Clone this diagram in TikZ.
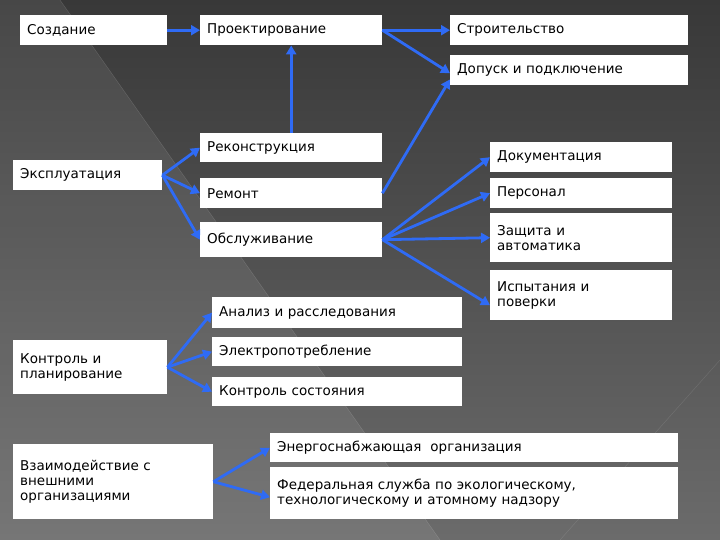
\documentclass[tikz,border=0pt]{standalone}
\usepackage{fontspec}
\setmainfont{DejaVu Sans}
\usetikzlibrary{arrows.meta}
\definecolor{arr}{HTML}{2F6BF5}
\tikzset{
 box/.style={fill=white,inner sep=0pt,font=\fontsize{13.5}{15}\selectfont,text=black},
 ar/.style={draw=arr,line width=2.8pt,-{Triangle[length=9pt,width=10pt]}}
}
\newcommand{\bx}[6]{\node[box,minimum width=#4-#2,minimum height=#5-#3,anchor=north west,text width=#4-#2-14,align=left] (#1) at (#2,#3) {#6};}
\begin{document}
\begin{tikzpicture}[x=1pt,y=-1pt]
\useasboundingbox (0,0) rectangle (720,540);
\shade[top color=black!78,bottom color=black!58] (0,0) rectangle (720,540);
\fill[white,opacity=0.08] (0,0) -- (60,0) -- (440,540) -- (0,540) -- cycle;
\draw[white,opacity=0.15] (60,0) -- (440,540);
\draw[white,opacity=0.12] (720,360) -- (560,540);
\bx{a}{20}{15}{167}{45}{Создание}
\bx{b}{200}{15}{382}{45}{Проектирование}
\bx{c}{450}{15}{688}{45}{Строительство}
\bx{d}{450}{55}{688}{85}{Допуск и подключение}
\bx{e}{200}{133}{382}{162}{Реконструкция}
\bx{f}{13}{160}{162}{190}{Эксплуатация}
\bx{g}{490}{142}{672}{172}{Документация}
\bx{h}{200}{178}{382}{208}{Ремонт}
\bx{i}{490}{178}{672}{208}{Персонал}
\bx{j}{200}{222}{382}{257}{Обслуживание}
\bx{k}{490}{213}{672}{262}{Защита и\\автоматика}
\bx{l}{490}{270}{672}{320}{Испытания и\\поверки}
\bx{m}{212}{297}{462}{328}{Анализ и расследования}
\bx{n}{13}{340}{167}{394}{Контроль и\\планирование}
\bx{o}{212}{337}{462}{366}{Электропотребление}
\bx{p}{212}{377}{462}{406}{Контроль состояния}
\bx{q}{13}{444}{213}{519}{Взаимодействие с\\внешними\\организациями}
\bx{r}{270}{433}{678}{462}{Энергоснабжающая~ организация}
\bx{s}{270}{467}{678}{519}{Федеральная служба по экологическому,\\технологическому и атомному надзору}
\draw[ar] (a.east) -- (b.west);
\draw[ar] (b.east) -- (c.west);
\draw[ar] (b.east) -- ([yshift=-3]d.west);
\draw[ar] (h.east) -- ([yshift=6]d.south west);
\draw[ar] (e.north) -- (b.south);
\draw[ar] (f.east) -- (e.west);
\draw[ar] (f.east) -- (h.west);
\draw[ar] (f.east) -- (j.west);
\draw[ar] (j.east) -- (g.west);
\draw[ar] (j.east) -- (i.west);
\draw[ar] (j.east) -- (k.west);
\draw[ar] (j.east) -- ([yshift=-10]l.west);
\draw[ar] (n.east) -- (m.west);
\draw[ar] (n.east) -- (o.west);
\draw[ar] (n.east) -- (p.west);
\draw[ar] (q.east) -- (r.west);
\draw[ar] (q.east) -- ([yshift=-4]s.west);
\end{tikzpicture}
\end{document}
